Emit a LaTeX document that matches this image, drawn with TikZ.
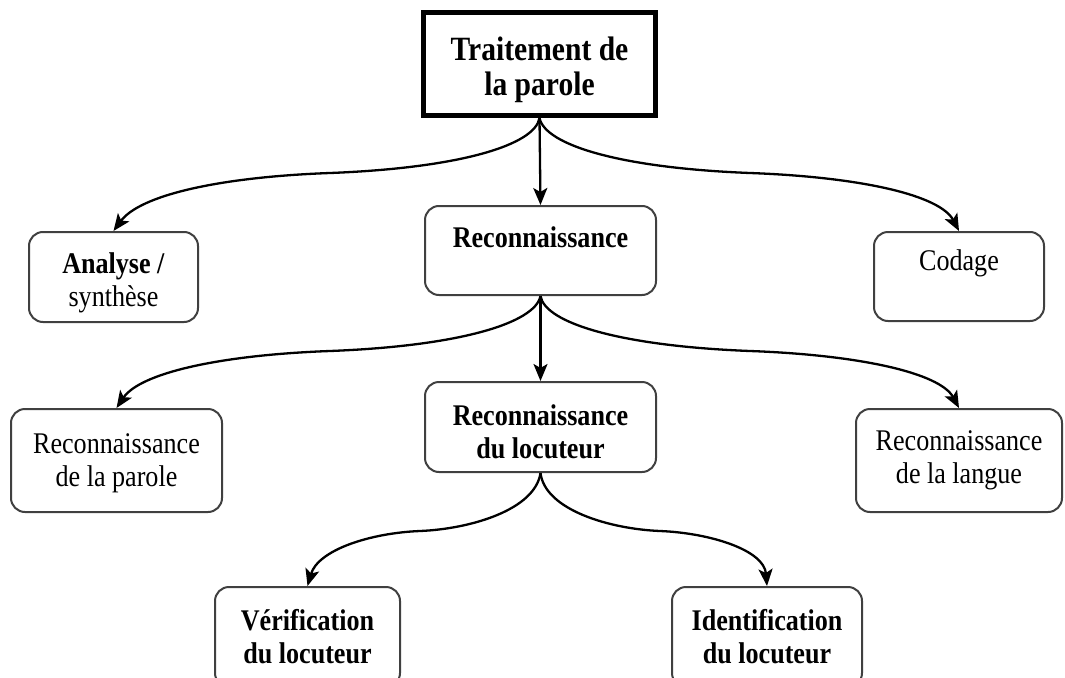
\documentclass[tikz,border=0pt]{standalone}
\usepackage{fontspec}
\setmainfont{Liberation Serif}[FakeStretch=0.87]
\usetikzlibrary{arrows.meta}

% invisible strut that lowers the first line of a box label
\newcommand{\firstline}[1]{\rule{0pt}{#1}}

\tikzset{
  box/.style={draw=black!75, line width=2pt, rounded corners=14pt, align=center,
    inner sep=0pt, font=\fontsize{30}{33}\selectfont},
  root/.style={draw=black, line width=5pt, align=center, inner sep=0pt,
    font=\fontsize{34}{35}\selectfont\bfseries},
  link/.style={line width=2.3pt, -{Stealth[length=17pt,width=14pt,inset=4pt]}}
}

\begin{document}
\begin{tikzpicture}[x=1pt,y=-1pt]
  \useasboundingbox (0,0) rectangle (1065,677);
  \clip (0,0) rectangle (1065,677);

  % root
  \node[root, minimum width=232pt, minimum height=103pt] (root) at (539.5,64)
    {\firstline{35pt}Traitement de\\la parole};

  % first level
  \node[box, minimum width=169pt, minimum height=90pt] (ana) at (113.5,277)
    {\firstline{32pt}\textbf{Analyse /}\\synthèse};
  \node[box, minimum width=231pt, minimum height=89pt] (rec) at (540.5,250.5)
    {\firstline{27pt}\textbf{Reconnaissance}\\\mbox{}};
  \node[box, minimum width=170pt, minimum height=89pt] (cod) at (959,276.5)
    {Codage\\\mbox{}};

  % second level
  \node[box, minimum width=211pt, minimum height=103pt] (rpar) at (116.5,460.5)
    {\firstline{25pt}Reconnaissance\\de la parole};
  \node[box, minimum width=231pt, minimum height=90pt] (rloc) at (540.5,427)
    {\firstline{31pt}\textbf{Reconnaissance}\\\textbf{du locuteur}};
  \node[box, minimum width=206pt, minimum height=103pt] (rlan) at (959,460.5)
    {Reconnaissance\\de la langue};

  % third level
  \node[box, minimum width=185pt, minimum height=100pt] (ver) at (307.5,637)
    {\textbf{Vérification}\\\textbf{du locuteur}};
  \node[box, minimum width=190pt, minimum height=100pt] (ide) at (767,637)
    {\textbf{Identification}\\\textbf{du locuteur}};

  % connectors: straight down the middle, brace-like curves to the sides
  \draw[link] (root.south) -- (rec.north);
  \draw[link] (root.south) .. controls (535,145) and (460,168) .. (330,173)
                           .. controls (220,177) and (140,195) .. (ana.north);
  \draw[link] (root.south) .. controls (545,145) and (620,168) .. (750,173)
                           .. controls (860,177) and (940,195) .. (cod.north);

  \draw[link] (rec.south) -- (rloc.north);
  \draw[link] (rec.south) .. controls (535,323) and (460,346) .. (330,351)
                          .. controls (220,355) and (140,373) .. (rpar.north);
  \draw[link] (rec.south) .. controls (545,323) and (620,346) .. (750,351)
                          .. controls (860,355) and (940,373) .. (rlan.north);

  \draw[link] (rloc.south) .. controls (535,510) and (470,529) .. (420,531)
                           .. controls (370,533) and (318,550) .. (ver.north);
  \draw[link] (rloc.south) .. controls (545,510) and (610,529) .. (660,531)
                           .. controls (710,533) and (764,550) .. (ide.north);
\end{tikzpicture}
\end{document}
